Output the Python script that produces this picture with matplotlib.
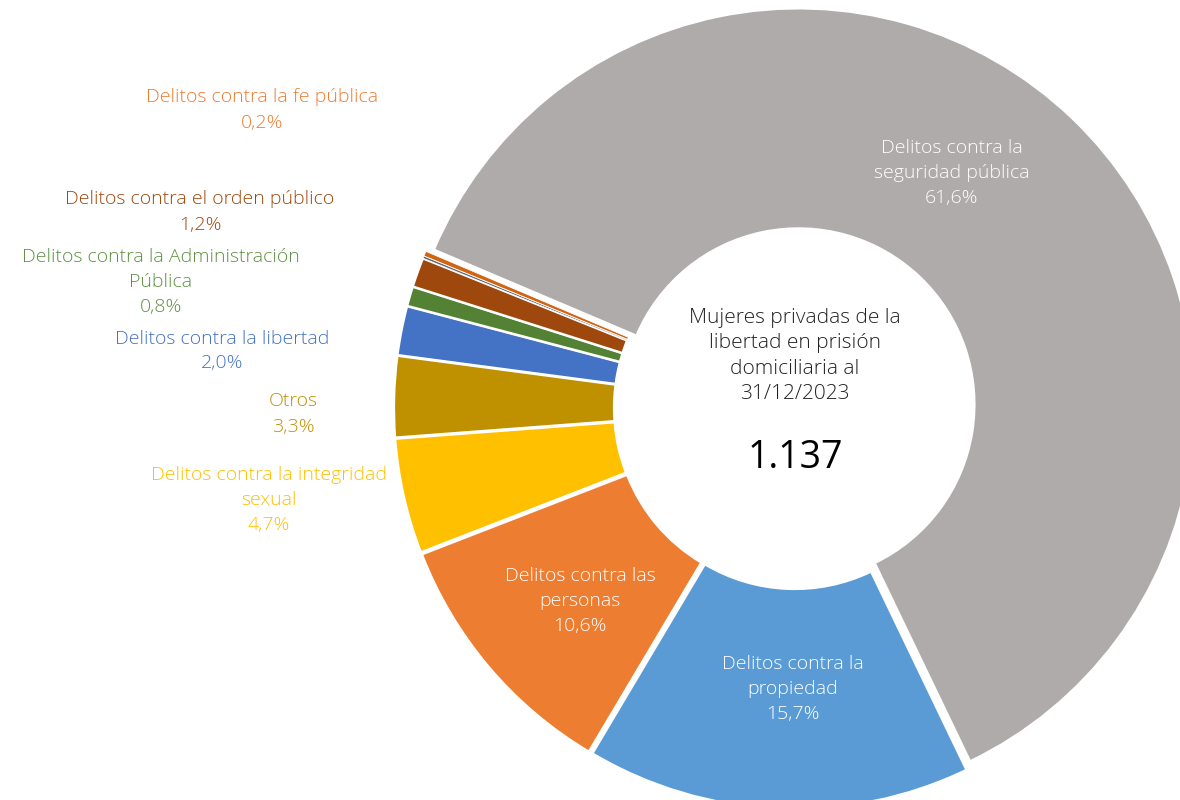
import matplotlib
matplotlib.use('Agg')
import matplotlib.pyplot as plt

plt.rcParams['font.family'] = ['Open Sans', 'DejaVu Sans']

W, H = 1180, 800

# data (clockwise from the big grey slice)
categories = ['Delitos contra la\nseguridad pública', 'Delitos contra la\npropiedad',
              'Delitos contra las\npersonas', 'Delitos contra la integridad\nsexual',
              'Otros', 'Delitos contra la libertad', 'Delitos contra la Administración\nPública',
              'Delitos contra el orden público', '', 'Delitos contra la fe pública']
shares = [61.6, 15.7, 10.6, 4.7, 3.3, 2.0, 0.8, 1.2, 0.1, 0.2]
pct_labels = ['61,6%', '15,7%', '10,6%', '4,7%', '3,3%', '2,0%', '0,8%', '1,2%', '', '0,2%']
colors = ['#AEABAA', '#5B9BD5', '#ED7D31', '#FFC000', '#BF9000', '#4472C4',
          '#548235', '#9E480E', '#5E6776', '#D3640F']
label_colors = ['white', 'white', 'white', '#FFC000', '#BF9000', '#4472C4',
                '#5F9144', '#9E480E', None, '#ED7D31']
# label centres in pixel coords (x, y from top)
label_pos = [(952, 173), (793, 689), (580, 601), (269, 500), (293, 414), (222, 351),
             (161, 282), (200, 212), None, (262, 110)]

total_n = '1.137'
center_title = 'Mujeres privadas de la\nlibertad en prisión\ndomiciliaria al\n31/12/2023'

fig = plt.figure(figsize=(W / 100, H / 100), dpi=100)
ax = fig.add_axes([0, 0, 1, 1])
ax.set_xlim(0, W); ax.set_ylim(0, H)
ax.set_aspect('equal')
ax.axis('off')

cx, cy, R = 795, H - 408, 396
wedges, _ = ax.pie(shares, colors=colors, center=(cx, cy), radius=R, startangle=157,
                   counterclock=False, explode=[5] * len(shares),
                   wedgeprops=dict(width=R - 176, edgecolor='white', linewidth=1.6),
                   normalize=True)
# thinner separators on the tiny slices so they stay visible
for w, s in zip(wedges, shares):
    if s < 0.5:
        w.set_linewidth(0.6)

for cat, pct, col, pos in zip(categories, pct_labels, label_colors, label_pos):
    if pos is None:
        continue
    ax.text(pos[0], H - pos[1], f'{cat}\n{pct}', color=col, fontsize=14, ha='center',
            va='center', linespacing=1.5, fontweight='light')

ax.text(cx, H - 356, center_title, color='#222222', fontsize=15, ha='center',
        va='center', linespacing=1.34, fontweight='light')
ax.text(cx, H - 458, total_n, color='black', fontsize=27, ha='center', va='center')

ax.set_xlim(0, W); ax.set_ylim(0, H)
fig.savefig('out.png', dpi=100, facecolor='white')
